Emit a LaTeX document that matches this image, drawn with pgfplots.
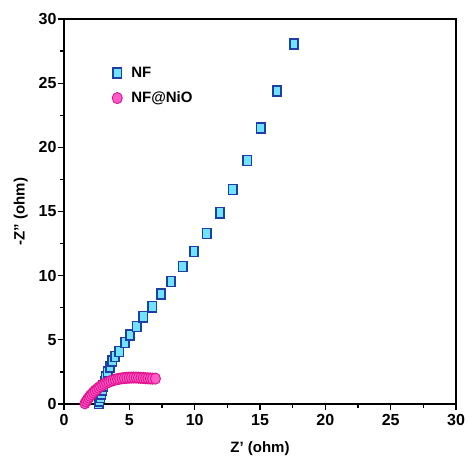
\documentclass[border=0pt]{standalone}
\usepackage{fontspec}
\setmainfont{Liberation Sans}
\usepackage{pgfplots}
\pgfplotsset{compat=1.18}
\definecolor{sqfill}{HTML}{6FE3FF}
\definecolor{sqdraw}{HTML}{1F3FA8}
\definecolor{cfill}{HTML}{FF5CC8}
\definecolor{cdraw}{HTML}{E0108C}
\begin{document}
\begin{tikzpicture}
\begin{axis}[
  name=ax,
  scale only axis,
  width=392pt, height=385pt,
  xmin=0, xmax=30, ymin=0, ymax=30,
  xtick={0,5,...,30}, ytick={0,5,...,30},
  minor tick num=1,
  tick pos=left,
  tick align=outside,
  major tick length=6pt,
  minor tick length=4pt,
  axis line style={line width=1.4pt},
  every tick/.style={line width=1.2pt, black},
  /pgf/number format/assume math mode=true,
  ticklabel style={font=\bfseries\fontsize{16}{18}\selectfont},
  xticklabel style={yshift=-1pt},
  yticklabel style={xshift=2pt},
  xlabel={Z' (ohm)},
  ylabel={-Z'' (ohm)},
  label style={font=\bfseries\fontsize{15}{17}\selectfont},
  xlabel style={yshift=-9pt},
  ylabel style={yshift=4pt},
  legend cell align=left,
  legend style={draw=none, fill=none, at={(0.115,0.886)}, anchor=north west,
    font=\bfseries\fontsize{15}{17}\selectfont, row sep=9pt},
]
\addplot[only marks, mark=square*, mark size=4.2pt,
  mark options={yscale=1.2, fill=sqfill, draw=sqdraw, line width=1.5pt}]
coordinates {
(2.67,0.05)(2.72,0.25)(2.78,0.5)(2.85,0.8)(2.92,1.1)(3.0,1.4)(3.1,1.75)(3.2,2.1)
(3.35,2.5)(3.52,2.9)(3.7,3.35)(3.9,3.69)(4.23,4.08)(4.67,4.78)(5.05,5.38)(5.56,6.03)
(6.07,6.80)(6.76,7.58)(7.42,8.57)(8.19,9.53)(9.08,10.7)(9.95,11.87)(10.92,13.3)
(11.94,14.9)(12.9,16.7)(14.02,18.97)(15.07,21.5)(16.3,24.4)(17.6,28.06)
};
\addlegendentry{\hspace{7pt}NF}
\addplot[only marks, mark=*, mark size=5pt,
  mark options={yscale=1.12, fill=cfill, draw=cdraw, line width=0.9pt}]
coordinates {
(1.60,0.05)(1.70,0.20)(1.80,0.35)(1.90,0.50)(2.00,0.63)(2.12,0.76)(2.25,0.90)
(2.38,1.03)(2.52,1.15)(2.66,1.27)(2.80,1.38)(2.95,1.48)(3.10,1.57)(3.26,1.65)
(3.42,1.72)(3.58,1.79)(3.75,1.85)(3.92,1.90)(4.09,1.94)(4.26,1.97)(4.44,2.00)
(4.62,2.02)(4.80,2.04)(4.98,2.05)(5.16,2.06)(5.34,2.06)(5.52,2.06)(5.70,2.05)
(5.88,2.04)(6.06,2.03)(6.24,2.01)(6.42,2.00)(6.60,1.99)(6.78,1.98)(7.00,1.98)
};
\addlegendentry{\hspace{7pt}NF@NiO}
\end{axis}
\path (ax.south west) ++(-64pt,-66pt) coordinate (bl);
\path (ax.north east) ++(13pt,19pt) coordinate (tr);
\path (bl) rectangle (tr);
\end{tikzpicture}
\end{document}
